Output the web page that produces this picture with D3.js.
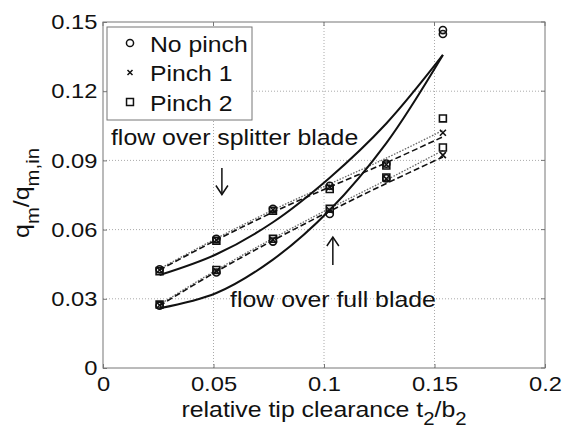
<!DOCTYPE html>
<html lang="en">
<head>
  <meta charset="utf-8">
  <title>Tip clearance mass flow</title>
  <script src="https://cdn.jsdelivr.net/npm/d3@7"></script>
  <style>
  body { margin: 0; background: #fff; }
  text { font-family: "Liberation Sans", Arial, sans-serif; fill: #111; }
  </style>
</head>
<body>
<script>
// measured tip clearance positions
var clearance = [0.0256, 0.0513, 0.0769, 0.1026, 0.1282, 0.1538];

// flow over splitter blade (upper group)
var splitNoPinch = [0.0428, 0.0560, 0.0690, 0.0790, 0.0886, 0.1465];
var splitPinch1  = [0.0425, 0.0555, 0.0686, 0.0784, 0.0882, 0.1020];
var splitPinch2  = [0.0420, 0.0552, 0.0682, 0.0776, 0.0878, 0.1082];

// flow over full blade (lower group)
var fullNoPinch = [0.0270, 0.0414, 0.0548, 0.0668, 0.0822, 0.1448];
var fullPinch1  = [0.0272, 0.0420, 0.0556, 0.0684, 0.0820, 0.0923];
var fullPinch2  = [0.0275, 0.0425, 0.0560, 0.0690, 0.0826, 0.0956];

// fitted curves
var fitX = [0.0256, 0.0513, 0.0769, 0.1026, 0.1282, 0.1538];
var fitSplitNoPinch = [0.0403, 0.0493, 0.0632, 0.0825, 0.1060, 0.1357];
var fitFullNoPinch  = [0.0259, 0.0325, 0.0470, 0.0685, 0.0975, 0.1357];
var fitSplitPinch1  = [0.0425, 0.0555, 0.0675, 0.0785, 0.0890, 0.1002];
var fitSplitPinch2  = [0.0430, 0.0562, 0.0685, 0.0798, 0.0910, 0.1030];
var fitFullPinch1   = [0.0270, 0.0418, 0.0553, 0.0680, 0.0800, 0.0915];
var fitFullPinch2   = [0.0275, 0.0425, 0.0562, 0.0692, 0.0815, 0.0943];

var xTicks = [0, 0.05, 0.1, 0.15, 0.2];
var yTicks = [0, 0.03, 0.06, 0.09, 0.12, 0.15];
var legendNames = ["No pinch", "Pinch 1", "Pinch 2"];

var w = 571, h = 430;
var margin = {top: 22, right: 26, bottom: 62, left: 103};
var stretch = 1.13; // the original figure text is a bit wide

var svg = d3.select("body").append("svg")
  .attr("width", w)
  .attr("height", h);

var x = d3.scaleLinear().domain([0, 0.2]).range([margin.left, w - margin.right]);
var y = d3.scaleLinear().domain([0, 0.15]).range([h - margin.bottom, margin.top]);

// grid
svg.append("g").selectAll("line")
  .data(xTicks.slice(1, -1))
  .enter().append("line")
  .attr("x1", d => x(d)).attr("x2", d => x(d))
  .attr("y1", y(0)).attr("y2", y(0.15))
  .attr("stroke", "#aaa").attr("stroke-width", 1).attr("stroke-dasharray", "1,2");
svg.append("g").selectAll("line")
  .data(yTicks.slice(1, -1))
  .enter().append("line")
  .attr("x1", x(0)).attr("x2", x(0.2))
  .attr("y1", d => y(d)).attr("y2", d => y(d))
  .attr("stroke", "#aaa").attr("stroke-width", 1).attr("stroke-dasharray", "1,2");

// axes
var fmt = d => String(+d.toFixed(2));
var xAxis = svg.append("g")
  .attr("transform", "translate(0," + y(0) + ")")
  .call(d3.axisBottom(x).tickValues(xTicks).tickSizeInner(-4).tickSizeOuter(0).tickPadding(8).tickFormat(fmt));
var yAxis = svg.append("g")
  .attr("transform", "translate(" + x(0) + ",0)")
  .call(d3.axisLeft(y).tickValues(yTicks).tickSizeInner(-4).tickSizeOuter(0).tickPadding(5).tickFormat(fmt));
[xAxis, yAxis].forEach(function(g) {
  g.select(".domain").remove();
  g.selectAll("line").attr("stroke", "#777");
  g.selectAll("text").style("font-size", "21px").attr("fill", "#111")
    .attr("transform", "scale(" + stretch + ",1)")
    .style("font-family", "'Liberation Sans', Arial, sans-serif");
});
// top/right ticks
svg.append("g").selectAll("line").data(xTicks).enter().append("line")
  .attr("x1", d => x(d)).attr("x2", d => x(d)).attr("y1", y(0.15)).attr("y2", y(0.15) + 4)
  .attr("stroke", "#777");
svg.append("g").selectAll("line").data(yTicks).enter().append("line")
  .attr("x1", x(0.2)).attr("x2", x(0.2) - 4).attr("y1", d => y(d)).attr("y2", d => y(d))
  .attr("stroke", "#777");

// box
svg.append("rect")
  .attr("x", x(0)).attr("y", y(0.15))
  .attr("width", x(0.2) - x(0)).attr("height", y(0) - y(0.15))
  .attr("fill", "none").attr("stroke", "#777").attr("stroke-width", 1);

// fit curves
var line = d3.line()
  .x(d => x(d[0])).y(d => y(d[1]))
  .curve(d3.curveCatmullRom);
function pairs(ys) { return fitX.map((v, i) => [v, ys[i]]); }

var fits = [
  {v: fitSplitPinch2, dash: "1.5,1.5", color: "#666", width: 1.3},
  {v: fitFullPinch2,  dash: "1.5,1.5", color: "#666", width: 1.3},
  {v: fitSplitPinch1, dash: "6,3",     color: "#111", width: 1.6},
  {v: fitFullPinch1,  dash: "6,3",     color: "#111", width: 1.6},
  {v: fitSplitNoPinch, dash: null,     color: "#111", width: 2},
  {v: fitFullNoPinch,  dash: null,     color: "#111", width: 2}
];
svg.append("g").selectAll("path")
  .data(fits)
  .enter().append("path")
  .attr("d", d => line(pairs(d.v)))
  .attr("fill", "none")
  .attr("stroke", d => d.color)
  .attr("stroke-width", d => d.width)
  .attr("stroke-dasharray", d => d.dash);

// markers
var circleSym = d3.symbol().type(d3.symbolCircle).size(40);
var squareSym = d3.symbol().type(d3.symbolSquare).size(48);
var crossPath = "M-3,-3L3,3M-3,3L3,-3";

function drawMarkers(vals, kind) {
  var g = svg.append("g");
  var sel = g.selectAll("path").data(vals).enter().append("path")
    .attr("transform", (d, i) => "translate(" + x(clearance[i]) + "," + y(d) + ")")
    .attr("fill", "none").attr("stroke", "#111").attr("stroke-width", 1.6);
  if (kind == "circle") sel.attr("d", circleSym());
  else if (kind == "square") sel.attr("d", squareSym());
  else sel.attr("d", crossPath);
}
drawMarkers(splitNoPinch, "circle");
drawMarkers(fullNoPinch, "circle");
drawMarkers(splitPinch1, "cross");
drawMarkers(fullPinch1, "cross");
drawMarkers(splitPinch2, "square");
drawMarkers(fullPinch2, "square");

function wideText(px, py, size, str) {
  return svg.append("g")
    .attr("transform", "translate(" + px + "," + py + ") scale(" + stretch + ",1)")
    .append("text")
    .style("font-size", size + "px")
    .text(str);
}

// annotations
wideText(x(0.0036), y(0.0967), 22, "flow over splitter blade");
wideText(x(0.0575), y(0.0264), 22, "flow over full blade");

function arrow(xv, y0, y1) {
  var g = svg.append("g").attr("stroke", "#111").attr("stroke-width", 1.5).attr("fill", "none");
  g.append("line").attr("x1", x(xv)).attr("x2", x(xv)).attr("y1", y(y0)).attr("y2", y(y1));
  var dir = y(y1) > y(y0) ? -1 : 1;
  g.append("path").attr("d", "M" + (x(xv) - 6) + "," + (y(y1) + dir * 9) +
    "L" + x(xv) + "," + y(y1) + "L" + (x(xv) + 6) + "," + (y(y1) + dir * 9));
}
arrow(0.0538, 0.0867, 0.0752);
arrow(0.1040, 0.0447, 0.0568);

// legend
var lg = svg.append("g").attr("transform", "translate(107,27)");
lg.append("rect").attr("width", 145).attr("height", 93)
  .attr("fill", "#fff").attr("stroke", "#777").attr("stroke-width", 1);
legendNames.forEach(function(name, i) {
  var cy = 16 + i * 29.5;
  var m = lg.append("path").attr("transform", "translate(23," + cy + ")")
    .attr("fill", "none").attr("stroke", "#111").attr("stroke-width", 1.5);
  if (i == 0) m.attr("d", circleSym());
  else if (i == 1) m.attr("d", "M-2.5,-2.5L2.5,2.5M-2.5,2.5L2.5,-2.5");
  else m.attr("d", squareSym());
  lg.append("g").attr("transform", "translate(43," + (cy + 8.5) + ") scale(1.1,1)")
    .append("text").style("font-size", "22.5px").text(name);
});

// axis labels
var xl = svg.append("g")
  .attr("transform", "translate(" + (x(0) + x(0.2)) / 2 + ",417) scale(" + stretch + ",1)")
  .append("text")
  .attr("text-anchor", "middle")
  .style("font-size", "22px");
xl.append("tspan").text("relative tip clearance t");
xl.append("tspan").attr("dy", 8).style("font-size", "18px").text("2");
xl.append("tspan").attr("dy", -8).text("/b");
xl.append("tspan").attr("dy", 8).style("font-size", "18px").text("2");

var yl = svg.append("g")
  .attr("transform", "translate(29," + ((y(0) + y(0.15)) / 2 - 2) + ") rotate(-90) scale(" + stretch + ",1)")
  .append("text")
  .attr("text-anchor", "middle")
  .style("font-size", "22px");
yl.append("tspan").text("q");
yl.append("tspan").attr("dy", 10).style("font-size", "18px").text("m");
yl.append("tspan").attr("dy", -10).text("/q");
yl.append("tspan").attr("dy", 10).style("font-size", "18px").text("m,in");
</script>
</body>
</html>
